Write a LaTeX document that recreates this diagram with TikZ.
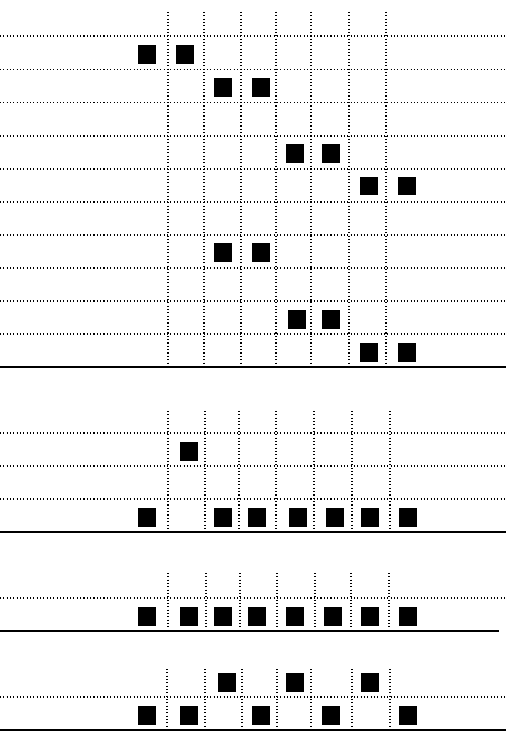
\documentclass[tikz,border=0pt]{standalone}
\usepackage{tikz}

\tikzset{
    gridline/.style={line width=0.6pt, dash pattern=on 0.6pt off 1.3pt},
    baseline/.style={line width=0.8pt},
    bit/.style={fill=black},
}

\begin{document}
\begin{tikzpicture}[x=0.02cm,y=-0.02cm]
    \useasboundingbox (0,0) rectangle (506,732);

    % Panel 1
    \foreach \y in {36,69.5,102.5,136,169,202,235,268,301,334}
        \draw[gridline] (0,\y) -- (506,\y);
    \foreach \x in {168,204,241,276,311,349,386}
        \draw[gridline] (\x,12) -- (\x,366);
    \draw[baseline] (0,367) -- (506,367);
    \foreach \x/\y in {147/54.5,185/54.5, 223/87.5,261/87.5,
                       295/153.5,331/153.5, 369/186,407/186,
                       223/252.5,261/252.5, 297/319.5,331/319.5,
                       369/352.5,407/352.5}
        \fill[bit] (\x-9.4,\y-9.4) rectangle ++(18.8,18.8);

    % Panel 2
    \foreach \y in {433,466,499}
        \draw[gridline] (0,\y) -- (506,\y);
    \foreach \x in {168,205,239,276,314,352,390}
        \draw[gridline] (\x,411) -- (\x,531);
    \draw[baseline] (0,532) -- (506,532);
    \foreach \x/\y in {189/451.5, 147/517.5,223/517.5,257/517.5,298/517.5,
                       335/517.5,370/517.5,408/517.5}
        \fill[bit] (\x-9.4,\y-9.4) rectangle ++(18.8,18.8);

    % Panel 3
    \draw[gridline] (0,598) -- (506,598);
    \foreach \x in {168,206,240,277,315,351,389}
        \draw[gridline] (\x,573) -- (\x,630);
    \draw[baseline] (0,631) -- (499,631);
    \foreach \x in {147,189,223,257,295,333,370,408}
        \fill[bit] (\x-9.4,616.7-9.4) rectangle ++(18.8,18.8);

    % Panel 4
    \draw[gridline] (0,697) -- (506,697);
    \foreach \x in {167,205}
        \draw[gridline] (\x,669) -- (\x,732);
    \foreach \x in {242,277,311,352,390}
        \draw[gridline] (\x,669) -- (\x,727);
    \draw[baseline] (0,730) -- (506,730);
    \foreach \x/\y in {227/682.7,295/682.7,370/682.7,
                       147/715.5,189/715.5,261/715.5,331/715.5,408/715.5}
        \fill[bit] (\x-9.4,\y-9.4) rectangle ++(18.8,18.8);
\end{tikzpicture}
\end{document}
